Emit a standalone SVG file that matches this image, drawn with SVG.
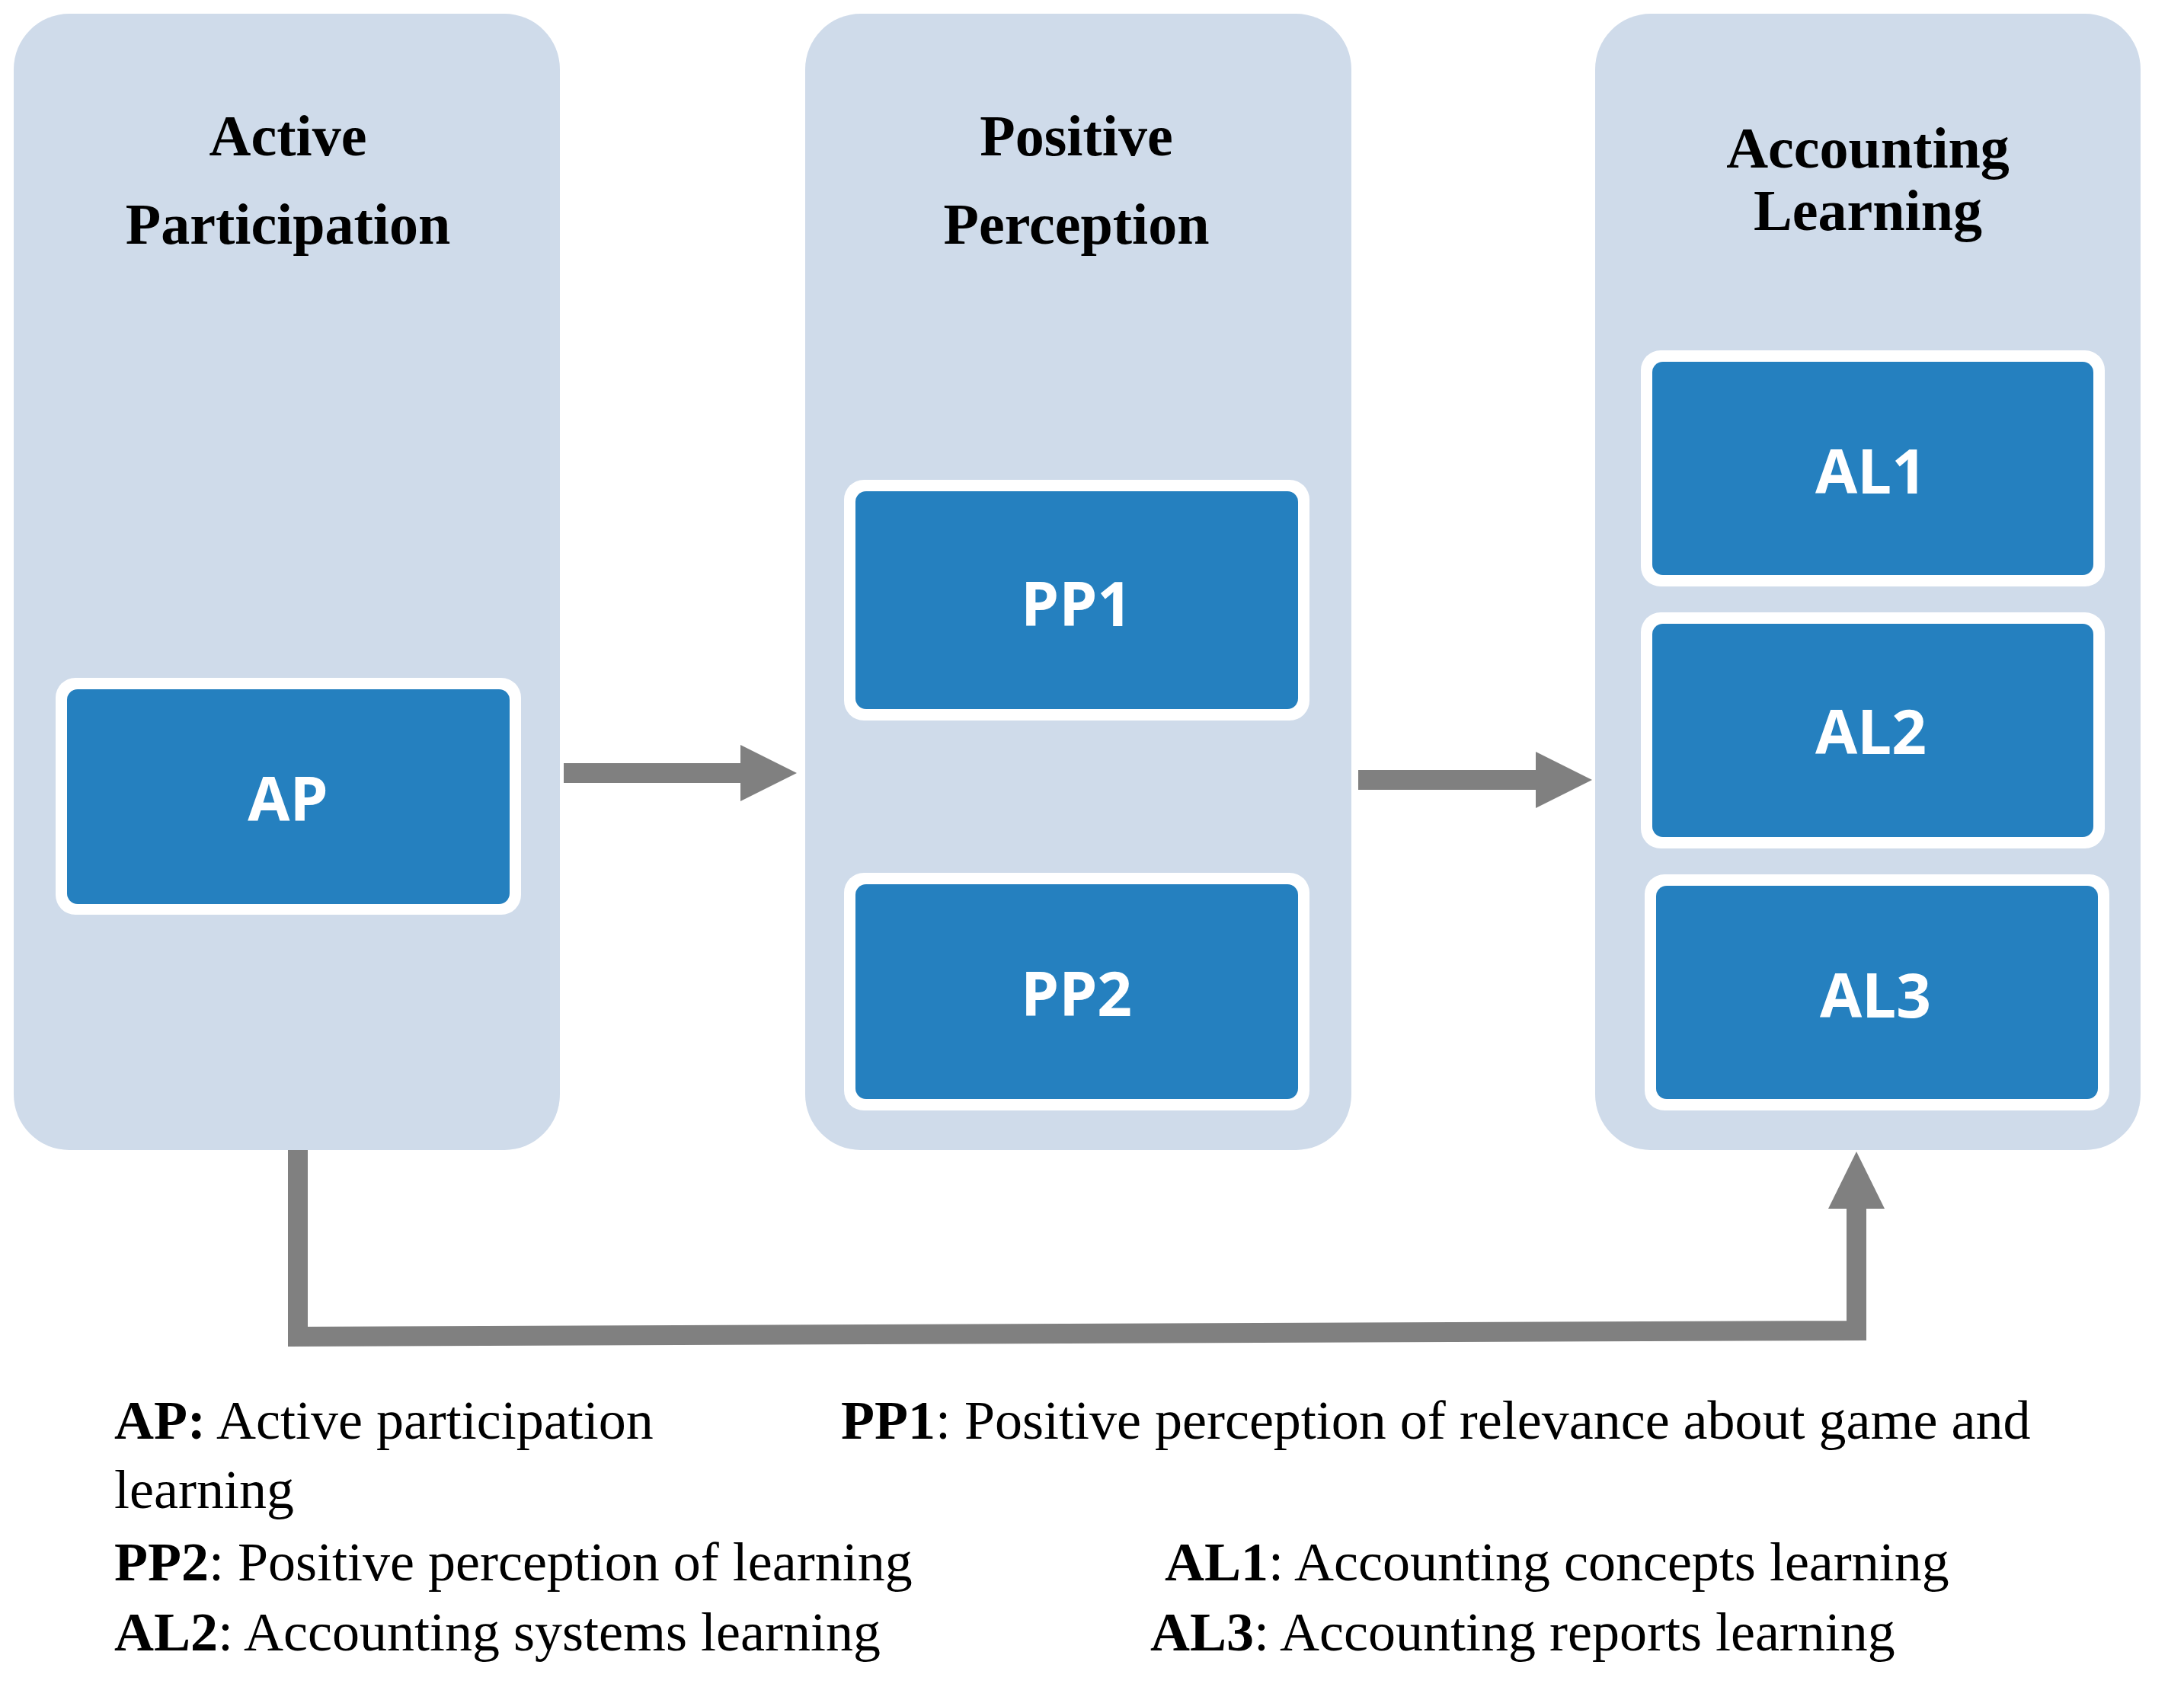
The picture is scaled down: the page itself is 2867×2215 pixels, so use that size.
<svg xmlns="http://www.w3.org/2000/svg" width="2867" height="2215" viewBox="0 0 2867 2215">
<style>
.panel{fill:#cfdbea}
.outer{fill:#ffffff}
.box{fill:#2580bf}
.lbl{font-family:"Open Sans","Noto Sans",sans-serif;font-weight:bold;font-size:80px;fill:#fff;text-anchor:middle;dominant-baseline:central}
.ttl{font-family:"Liberation Serif",serif;font-weight:bold;font-size:76px;fill:#000;text-anchor:middle}
.leg{font-family:"Liberation Serif",serif;font-size:72px;fill:#000}
.conn{fill:none;stroke:#808080;stroke-width:26}
.head{fill:#808080}
</style>
<rect width="2867" height="2215" fill="#fff"/>
<g id="panel-ap"><rect class="panel" x="18" y="18" width="717" height="1492" rx="73"/>
<text class="ttl" x="378" y="204">Active</text><text class="ttl" x="378" y="320">Participation</text></g>
<g id="panel-pp"><rect class="panel" x="1057" y="18" width="717" height="1492" rx="73"/>
<text class="ttl" x="1413" y="204">Positive</text><text class="ttl" x="1413" y="320">Perception</text></g>
<g id="panel-al"><rect class="panel" x="2094" y="18" width="716" height="1492" rx="73"/>
<text class="ttl" x="2452" y="220">Accounting</text><text class="ttl" x="2452" y="302">Learning</text></g>
<g id="AP"><rect class="outer" x="73" y="890" width="611" height="311" rx="26"/><rect class="box" x="88" y="905" width="581" height="282" rx="14"/><text class="lbl" x="378" y="1046">AP</text></g>
<g id="PP1"><rect class="outer" x="1108" y="630" width="611" height="316" rx="26"/><rect class="box" x="1123" y="645" width="581" height="286" rx="14"/><text class="lbl" x="1413" y="790">PP1</text></g>
<g id="PP2"><rect class="outer" x="1108" y="1146" width="611" height="312" rx="26"/><rect class="box" x="1123" y="1161" width="581" height="282" rx="14"/><text class="lbl" x="1413" y="1302">PP2</text></g>
<g id="AL1"><rect class="outer" x="2154" y="460" width="609" height="310" rx="26"/><rect class="box" x="2169" y="475" width="579" height="280" rx="14"/><text class="lbl" x="2456" y="616">AL1</text></g>
<g id="AL2"><rect class="outer" x="2154" y="804" width="609" height="310" rx="26"/><rect class="box" x="2169" y="819" width="579" height="280" rx="14"/><text class="lbl" x="2456" y="958">AL2</text></g>
<g id="AL3"><rect class="outer" x="2159" y="1148" width="610" height="310" rx="26"/><rect class="box" x="2174" y="1163" width="580" height="280" rx="14"/><text class="lbl" x="2462" y="1304">AL3</text></g>
<g id="connectors">
<line class="conn" x1="740" y1="1015" x2="980" y2="1015"/><polygon class="head" points="972,978 1046,1015 972,1052"/>
<line class="conn" x1="1783" y1="1024" x2="2022" y2="1024"/><polygon class="head" points="2016,987 2090,1024 2016,1061"/>
<polyline class="conn" points="391,1510 391,1755 2437,1747 2437,1580"/><polygon class="head" points="2400,1587 2437,1512 2474,1587"/>
</g>
<g id="legend">
<text class="leg" x="150" y="1889"><tspan font-weight="bold">AP:</tspan> Active participation</text>
<text class="leg" x="1104" y="1889"><tspan font-weight="bold">PP1</tspan>: Positive perception of relevance about game and</text>
<text class="leg" x="150" y="1980">learning</text>
<text class="leg" x="150" y="2075"><tspan font-weight="bold">PP2</tspan>: Positive perception of learning</text>
<text class="leg" x="1529" y="2075"><tspan font-weight="bold">AL1</tspan>: Accounting concepts learning</text>
<text class="leg" x="150" y="2167"><tspan font-weight="bold">AL2</tspan>: Accounting systems learning</text>
<text class="leg" x="1510" y="2167"><tspan font-weight="bold">AL3</tspan>: Accounting reports learning</text>
</g>
</svg>
